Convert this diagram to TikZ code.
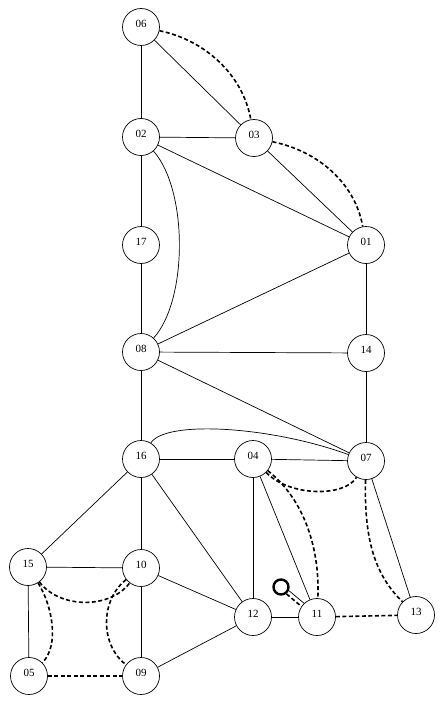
\documentclass[tikz,border=0pt]{standalone}
\usepackage{fontspec}
\setmainfont{Liberation Serif}
\begin{document}
\begin{tikzpicture}[x=1pt,y=-1pt,
  v/.style={circle,draw,line width=0.7pt,minimum size=37pt,inner sep=0pt},
  lab/.style={inner sep=0pt,yshift=3pt,font=\fontsize{11}{11}\selectfont},
  e/.style={line width=0.7pt},
  d/.style={line width=1.6pt,dash pattern=on 4pt off 2.5pt},
  ringst/.style={circle,draw,line width=2.4pt,minimum size=15pt,inner sep=0pt}]
\fill[white] (0,0) rectangle (446,706);
\useasboundingbox (0,0) rectangle (446,706);
\node[v,label={[lab]center:06}] (n06) at (141,27) {};
\node[v,label={[lab]center:02}] (n02) at (141,137) {};
\node[v,label={[lab]center:03}] (n03) at (254,138) {};
\node[v,label={[lab]center:01}] (n01) at (366,245) {};
\node[v,label={[lab]center:17}] (n17) at (141,245) {};
\node[v,label={[lab]center:08}] (n08) at (141,352) {};
\node[v,label={[lab]center:14}] (n14) at (366,353) {};
\node[v,label={[lab]center:16}] (n16) at (141,459) {};
\node[v,label={[lab]center:04}] (n04) at (253,459) {};
\node[v,label={[lab]center:07}] (n07) at (366,461) {};
\node[v,label={[lab]center:15}] (n15) at (28,567) {};
\node[v,label={[lab]center:10}] (n10) at (141,568) {};
\node[v,label={[lab]center:12}] (n12) at (253,617) {};
\node[v,label={[lab]center:11}] (n11) at (317,617) {};
\node[v,label={[lab]center:13}] (n13) at (416,615) {};
\node[v,label={[lab]center:05}] (n05) at (29,676) {};
\node[v,label={[lab]center:09}] (n09) at (141,676) {};
\node[ringst] (ring) at (281,587) {};
% solid edges
\draw[e] (n06) -- (n02);
\draw[e] (n06) -- (n03);
\draw[e] (n02) -- (n03);
\draw[e] (n02) -- (n01);
\draw[e] (n03) -- (n01);
\draw[e] (n02) -- (n17);
\draw[e] (n17) -- (n08);
\draw[e] (n02) .. controls (188,190) and (188,300) .. (n08);
\draw[e] (n08) -- (n01);
\draw[e] (n08) -- (n14);
\draw[e] (n01) -- (n14);
\draw[e] (n14) -- (n07);
\draw[e] (n08) -- (n07);
\draw[e] (n08) -- (n16);
\draw[e] (n16) .. controls (165,420) and (270,426) .. (n07);
\draw[e] (n16) -- (n04);
\draw[e] (n04) -- (n07);
\draw[e] (n16) -- (n10);
\draw[e] (n16) -- (n15);
\draw[e] (n16) -- (n12);
\draw[e] (n04) -- (n12);
\draw[e] (n04) -- (n11);
\draw[e] (n07) -- (n13);
\draw[e] (n10) -- (n15);
\draw[e] (n10) -- (n12);
\draw[e] (n10) -- (n09);
\draw[e] (n12) -- (n11);
\draw[e] (n12) -- (n09);
\draw[e] (n15) -- (n05);
\draw[e,transform canvas={xshift=1.5pt,yshift=1.7pt}] (ring) -- (n11);
% dashed edges
\draw[d] (n06) .. controls (205,40) and (243,75) .. (n03);
\draw[d] (n03) .. controls (318,151) and (355,183) .. (n01);
\draw[d] (n04) .. controls (290,497) and (345,497) .. (n07);
\draw[d] (n04) .. controls (305,500) and (320,550) .. (n11);
\draw[d] (n07) .. controls (364,540) and (375,575) .. (n13);
\draw[d] (n11) -- (n13);
\draw[d] (n15) .. controls (60,609) and (110,609) .. (n10);
\draw[d] (n15) .. controls (52,605) and (60,645) .. (n05);
\draw[d] (n10) .. controls (100,600) and (100,645) .. (n09);
\draw[d] (n05) -- (n09);
\draw[d,transform canvas={xshift=-1.2pt,yshift=-1.4pt}] (ring) -- (n11);
\end{tikzpicture}
\end{document}
